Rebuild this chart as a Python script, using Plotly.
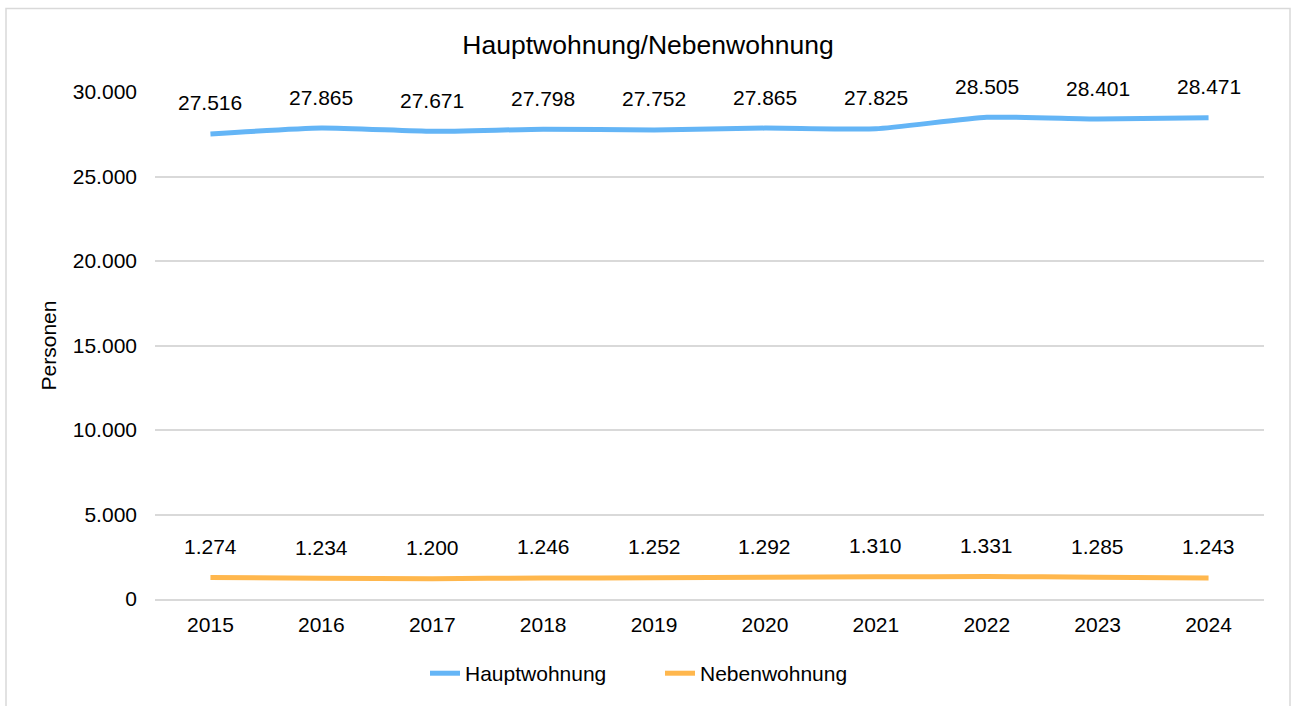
import plotly.graph_objects as go

years = ["2015", "2016", "2017", "2018", "2019", "2020", "2021", "2022", "2023", "2024"]
haupt = [27516, 27865, 27671, 27798, 27752, 27865, 27825, 28505, 28401, 28471]
neben = [1274, 1234, 1200, 1246, 1252, 1292, 1310, 1331, 1285, 1243]
y_ticks = [0, 5000, 10000, 15000, 20000, 25000, 30000]

FONT = "Arial, 'Liberation Sans', sans-serif"
BLUE = "#64B5F6"
ORANGE = "#FFB74D"
FS = 21

def de(v):
    return f"{v:,}".replace(",", ".")

fig = go.Figure()
fig.add_trace(go.Scatter(x=years, y=haupt, mode="lines", name="Hauptwohnung",
                         line=dict(color=BLUE, width=5, shape="spline", smoothing=0.5)))
fig.add_trace(go.Scatter(x=years, y=neben, mode="lines", name="Nebenwohnung",
                         line=dict(color=ORANGE, width=5, shape="spline", smoothing=0.5)))

for series in (haupt, neben):
    for i, v in enumerate(series):
        fig.add_annotation(x=i, y=v, text=de(v), showarrow=False, yshift=31,
                           font=dict(family=FONT, size=FS, color="#000000"))

W, H = 1295, 706
ml, mt = 155, 92
mr = W - 1264
mb = H - 602
pw, ph = W - ml - mr, H - mt - mb

def px(sx):
    return (sx - ml) / pw

def py(sy):
    return 1 - (sy - mt) / ph

fig.add_shape(type="rect", xref="paper", yref="paper",
              x0=px(6), x1=px(1290), y0=py(730), y1=py(8),
              line=dict(color="#D9D9D9", width=1.5), fillcolor="rgba(0,0,0,0)", layer="below")

fig.update_layout(
    width=W, height=H,
    margin=dict(l=ml, r=mr, t=mt, b=mb),
    paper_bgcolor="white", plot_bgcolor="white",
    font=dict(family=FONT, size=FS, color="#000000"),
    title=dict(text="Hauptwohnung/Nebenwohnung", x=648 / W, xanchor="center",
               y=1 - 45 / H, yanchor="middle",
               font=dict(family=FONT, size=26.5, color="#000000")),
    xaxis=dict(type="category", showgrid=False, showline=True, linecolor="#D9D9D9", linewidth=1.5,
               ticks="", tickfont=dict(size=FS), range=[-0.5, 9.5], ticklabelstandoff=6),
    yaxis=dict(range=[0, 30000], tickvals=y_ticks, ticktext=[de(v) for v in y_ticks],
               showgrid=True, gridcolor="#D9D9D9", gridwidth=1.5, zeroline=False,
               showline=False, ticks="", tickfont=dict(size=FS), ticklabelstandoff=17,
               title=dict(text="Personen", font=dict(size=FS), standoff=10)),
    legend=dict(orientation="h", x=px(660), xanchor="center",
                y=py(677), yanchor="middle", font=dict(size=FS),
                entrywidth=190, bgcolor="rgba(0,0,0,0)"),
    showlegend=True,
)

fig.write_html("out.html", config={"displayModeBar": False},
               post_script="document.body.style.margin='0px';document.body.style.overflow='hidden';")
